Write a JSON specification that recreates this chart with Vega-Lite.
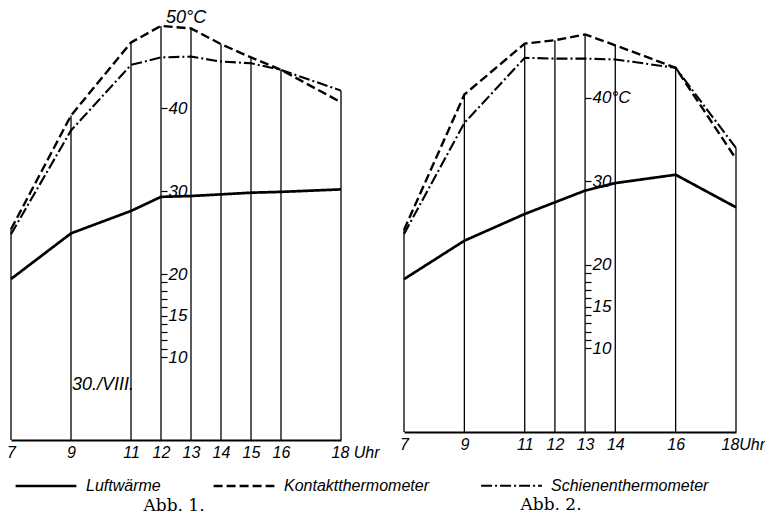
{
  "$schema": "https://vega.github.io/schema/vega-lite/v6.json",
  "background": "white",
  "padding": {"left": 5, "top": 1, "right": 0, "bottom": 0},
  "bounds": "flush",
  "spacing": 63,
  "config": {
    "view": {"stroke": null},
    "axis": {
      "labelColor": "black",
      "labelFont": "Liberation Sans",
      "labelFontStyle": "italic",
      "labelFontSize": 17,
      "domainColor": "black",
      "tickColor": "black",
      "grid": false,
      "labelFlush": false,
      "labelOverlap": false,
      "labelBound": false
    }
  },
  "resolve": {"scale": {"strokeDash": "shared", "strokeWidth": "shared"}, "legend": {"strokeDash": "shared"}},
  "datasets": {
    "abb1": [
      {"hour": 7, "series": "Luftwärme", "value": 19.4},
      {"hour": 9, "series": "Luftwärme", "value": 24.9},
      {"hour": 11, "series": "Luftwärme", "value": 27.6},
      {"hour": 12, "series": "Luftwärme", "value": 29.3},
      {"hour": 13, "series": "Luftwärme", "value": 29.4},
      {"hour": 14, "series": "Luftwärme", "value": 29.6},
      {"hour": 15, "series": "Luftwärme", "value": 29.8},
      {"hour": 16, "series": "Luftwärme", "value": 29.9},
      {"hour": 18, "series": "Luftwärme", "value": 30.2},
      {"hour": 7, "series": "Kontaktthermometer", "value": 25.4},
      {"hour": 9, "series": "Kontaktthermometer", "value": 39.1},
      {"hour": 11, "series": "Kontaktthermometer", "value": 47.9},
      {"hour": 12, "series": "Kontaktthermometer", "value": 49.9},
      {"hour": 13, "series": "Kontaktthermometer", "value": 49.6},
      {"hour": 14, "series": "Kontaktthermometer", "value": 47.7},
      {"hour": 15, "series": "Kontaktthermometer", "value": 46.1},
      {"hour": 16, "series": "Kontaktthermometer", "value": 44.6},
      {"hour": 18, "series": "Kontaktthermometer", "value": 40.7},
      {"hour": 7, "series": "Schienenthermometer", "value": 24.8},
      {"hour": 9, "series": "Schienenthermometer", "value": 37.3},
      {"hour": 11, "series": "Schienenthermometer", "value": 45.2},
      {"hour": 12, "series": "Schienenthermometer", "value": 46.1},
      {"hour": 13, "series": "Schienenthermometer", "value": 46.2},
      {"hour": 14, "series": "Schienenthermometer", "value": 45.6},
      {"hour": 15, "series": "Schienenthermometer", "value": 45.4},
      {"hour": 16, "series": "Schienenthermometer", "value": 44.6},
      {"hour": 18, "series": "Schienenthermometer", "value": 42.1}
    ],
    "abb2": [
      {"hour": 7, "series": "Luftwärme", "value": 18.3},
      {"hour": 9, "series": "Luftwärme", "value": 22.9},
      {"hour": 11, "series": "Luftwärme", "value": 26.1},
      {"hour": 12, "series": "Luftwärme", "value": 27.5},
      {"hour": 13, "series": "Luftwärme", "value": 28.9},
      {"hour": 14, "series": "Luftwärme", "value": 29.8},
      {"hour": 16, "series": "Luftwärme", "value": 30.8},
      {"hour": 18, "series": "Luftwärme", "value": 26.9},
      {"hour": 7, "series": "Kontaktthermometer", "value": 24.2},
      {"hour": 9, "series": "Kontaktthermometer", "value": 40.4},
      {"hour": 11, "series": "Kontaktthermometer", "value": 46.5},
      {"hour": 12, "series": "Kontaktthermometer", "value": 46.9},
      {"hour": 13, "series": "Kontaktthermometer", "value": 47.6},
      {"hour": 14, "series": "Kontaktthermometer", "value": 46.3},
      {"hour": 16, "series": "Kontaktthermometer", "value": 43.6},
      {"hour": 18, "series": "Kontaktthermometer", "value": 32.7},
      {"hour": 7, "series": "Schienenthermometer", "value": 23.7},
      {"hour": 9, "series": "Schienenthermometer", "value": 37.0},
      {"hour": 11, "series": "Schienenthermometer", "value": 44.8},
      {"hour": 12, "series": "Schienenthermometer", "value": 44.7},
      {"hour": 13, "series": "Schienenthermometer", "value": 44.7},
      {"hour": 14, "series": "Schienenthermometer", "value": 44.6},
      {"hour": 16, "series": "Schienenthermometer", "value": 43.6},
      {"hour": 18, "series": "Schienenthermometer", "value": 34.0}
    ]
  },
  "hconcat": [
    {
      "width": 330,
      "height": 439,
      "data": {"name": "abb1"},
      "title": {"text": "Abb. 1.", "orient": "bottom", "anchor": "middle", "font": "DejaVu Serif", "fontSize": 17, "fontWeight": "normal", "color": "black", "offset": 38, "dx": -2},
      "layer": [
        {
          "mark": {"type": "rule", "color": "black", "strokeWidth": 1.3},
          "encoding": {
            "x": {
              "field": "hour", "type": "quantitative",
              "scale": {"domain": [7, 18], "nice": false, "zero": false},
              "axis": {
                "title": null,
                "values": [7, 9, 11, 12, 13, 14, 15, 16, 18],
                "tickCount": 100,
                "format": "d",
                "labelExpr": "datum.value == 18 ? '18 Uhr' : datum.label",
                "labelAlign": {"condition": {"test": "datum.value == 18", "value": "left"}, "value": "center"},
                "labelOffset": {"condition": {"test": "datum.value == 18", "value": -10}, "value": 0},
                "labelOverlap": false,
                "labelFlush": false,
                "labelFontSize": 16,
                "ticks": false,
                "domainWidth": 2,
                "labelPadding": 4
              }
            },
            "y": {
              "field": "value", "aggregate": "max", "type": "quantitative",
              "scale": {"domain": [0, 52.9], "nice": false},
              "axis": {
                "title": null,
                "orient": "right",
                "offset": -180,
                "domain": false,
                "values": [10, 11, 12, 13, 14, 15, 16, 17, 18, 19, 20, 30, 40],
                "tickCount": 100,
                "format": "d",
                "labelExpr": "datum.value % 5 == 0 ? datum.label : ''",
                "labelOverlap": false,
                "labelFlush": false,
                "tickSize": 6,
                "tickWidth": 1.2,
                "labelPadding": 1
              }
            },
            "y2": {"datum": 0}
          }
        },
        {
          "mark": {"type": "line", "color": "black"},
          "encoding": {
            "x": {"field": "hour", "type": "quantitative", "title": null},
            "y": {"field": "value", "type": "quantitative", "title": null},
            "strokeWidth": {
              "field": "series", "type": "nominal", "legend": null,
              "scale": {"domain": ["Luftwärme", "Kontaktthermometer", "Schienenthermometer"], "range": [2.7, 2.1, 2.1]}
            },
            "strokeDash": {
              "field": "series", "type": "nominal",
              "scale": {"domain": ["Luftwärme", "Kontaktthermometer", "Schienenthermometer"], "range": [[1, 0], [9, 4], [11, 3, 2, 3]]},
              "legend": {
                "orient": "none", "legendX": 3, "legendY": 453,
                "direction": "horizontal", "title": null,
                "symbolType": "stroke", "symbolSize": 3700, "symbolStrokeWidth": 2.2, "symbolStrokeColor": "black",
                "labelFont": "Liberation Sans",
                "labelFontStyle": "italic", "labelFontSize": 16, "labelColor": "black", "labelLimit": 400,
                "columnPadding": 47, "labelOffset": 8, "padding": 0
              }
            }
          }
        },
        {
          "data": {"values": [{}]},
          "mark": {"type": "text", "text": "50°C", "align": "left", "baseline": "middle", "dx": 5, "font": "Liberation Sans", "fontStyle": "italic", "fontSize": 18, "color": "black"},
          "encoding": {"x": {"datum": 12}, "y": {"datum": 50.9}}
        },
        {
          "data": {"values": [{}]},
          "mark": {"type": "text", "text": "30./VIII.", "align": "left", "baseline": "middle", "dx": 1, "font": "Liberation Sans", "fontStyle": "italic", "fontSize": 18, "color": "black"},
          "encoding": {"x": {"datum": 9}, "y": {"datum": 6.6}}
        }
      ]
    },
    {
      "width": 332,
      "height": 431,
      "data": {"name": "abb2"},
      "title": {"text": "Abb. 2.", "orient": "bottom", "anchor": "middle", "font": "DejaVu Serif", "fontSize": 17, "fontWeight": "normal", "color": "black", "offset": 45, "dx": -19},
      "layer": [
        {
          "mark": {"type": "rule", "color": "black", "strokeWidth": 1.3},
          "encoding": {
            "x": {
              "field": "hour", "type": "quantitative",
              "scale": {"domain": [7, 18], "nice": false, "zero": false},
              "axis": {
                "title": null,
                "values": [7, 9, 11, 12, 13, 14, 16, 18],
                "tickCount": 100,
                "format": "d",
                "labelExpr": "datum.value == 18 ? '18Uhr' : datum.label",
                "labelAlign": {"condition": {"test": "datum.value == 18", "value": "left"}, "value": "center"},
                "labelOffset": {"condition": {"test": "datum.value == 18", "value": -15}, "value": 0},
                "labelOverlap": false,
                "labelFlush": false,
                "labelFontSize": 16,
                "ticks": false,
                "domainWidth": 2,
                "labelPadding": 4
              }
            },
            "y": {
              "field": "value", "aggregate": "max", "type": "quantitative",
              "scale": {"domain": [0, 51.6], "nice": false},
              "axis": {
                "title": null,
                "orient": "right",
                "offset": -151,
                "domain": false,
                "values": [10, 11, 12, 13, 14, 15, 16, 17, 18, 19, 20, 30, 40],
                "tickCount": 100,
                "format": "d",
                "labelExpr": "datum.value == 40 ? '40°C' : (datum.value % 5 == 0 ? datum.label : '')",
                "labelOverlap": false,
                "labelFlush": false,
                "tickSize": 6,
                "tickWidth": 1.2,
                "labelPadding": 1
              }
            },
            "y2": {"datum": 0}
          }
        },
        {
          "mark": {"type": "line", "color": "black"},
          "encoding": {
            "x": {"field": "hour", "type": "quantitative", "title": null},
            "y": {"field": "value", "type": "quantitative", "title": null},
            "strokeWidth": {"field": "series", "type": "nominal", "legend": null},
            "strokeDash": {"field": "series", "type": "nominal"}
          }
        }
      ]
    }
  ]
}
